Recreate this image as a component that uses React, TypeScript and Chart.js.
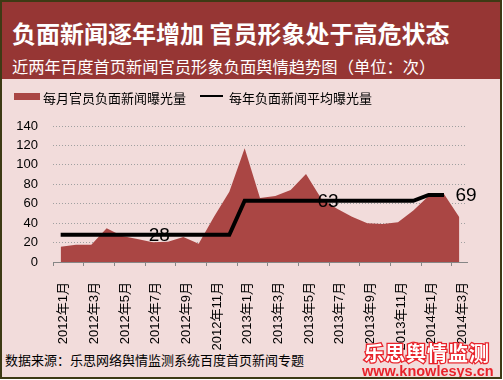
import React, { useEffect, useRef } from "react";
import { Chart, registerables } from "chart.js";

Chart.register(...registerables);

const months: string[] = [
  "2012年1月", "2012年2月", "2012年3月", "2012年4月", "2012年5月", "2012年6月",
  "2012年7月", "2012年8月", "2012年9月", "2012年10月", "2012年11月", "2012年12月",
  "2013年1月", "2013年2月", "2013年3月", "2013年4月", "2013年5月", "2013年6月",
  "2013年7月", "2013年8月", "2013年9月", "2013年10月", "2013年11月", "2013年12月",
  "2014年1月", "2014年2月", "2014年3月",
];

const monthlyExposure: number[] = [
  15.8, 17.8, 17.8, 34.7, 26.8, 23.7, 20.3, 20.9, 25.7, 18.8, 46.7, 72.4,
  117, 66, 68, 74, 90.5, 65, 55, 46.5, 40, 39, 41, 53,
  68, 70, 46,
];

const yearlyAverage: (number | null)[] = [
  28, 28, 28, 28, 28, 28, 28, 28, 28, 28, 28, 28,
  63, 63, 63, 63, 63, 63, 63, 63, 63, 63, 63, 63,
  69, 69, null,
];

const avgLabelIndex: number[] = [5, 16, 25];

const yTicks: number[] = [0, 20, 40, 60, 80, 100, 120, 140];

const FONT = "'Liberation Sans', Arial, 'Noto Sans CJK SC', sans-serif";
const CJK = "'Noto Sans CJK SC', 'Liberation Sans', sans-serif";

const avgLabelPlugin = {
  id: "avgLabels",
  afterDatasetsDraw(chart: any) {
    const ctx = chart.ctx;
    const xs = chart.scales.x;
    const ys = chart.scales.y;
    ctx.save();
    ctx.font = "19px " + FONT;
    ctx.fillStyle = "#000";
    ctx.textAlign = "center";
    ctx.textBaseline = "middle";
    avgLabelIndex.forEach((i) => {
      const v = yearlyAverage[i];
      if (v == null) return;
      ctx.fillText(String(v), xs.getPixelForValue(i) + 22, ys.getPixelForValue(v) + 1);
    });
    ctx.restore();
  },
};

export default function App() {
  const ref = useRef<HTMLCanvasElement | null>(null);

  useEffect(() => {
    if (!ref.current) return;
    Chart.defaults.font.family = FONT;
    const chart = new Chart(ref.current, {
      type: "line",
      data: {
        labels: months,
        datasets: [
          {
            label: "每年负面新闻平均曝光量",
            data: yearlyAverage,
            borderColor: "#000",
            borderWidth: 4,
            pointRadius: 0,
            fill: false,
            tension: 0,
            order: 0,
            spanGaps: false,
          },
          {
            label: "每月官员负面新闻曝光量",
            data: monthlyExposure,
            borderColor: "#aa4644",
            borderWidth: 0,
            backgroundColor: "#aa4644",
            pointRadius: 0,
            fill: "origin",
            tension: 0,
            order: 1,
          },
        ],
      },
      options: {
        animation: false,
        responsive: false,
        devicePixelRatio: 1,
        layout: { padding: { top: 46, right: 36, left: 0, bottom: 0 } },
        plugins: { legend: { display: false }, tooltip: { enabled: false } },
        scales: {
          x: {
            offset: true,
            afterFit: (s: any) => { s.height = 88; },
            grid: {
              offset: true,
              drawOnChartArea: false,
              drawTicks: true,
              tickLength: 4,
              color: (c: any) => (c.index % 2 === 0 ? "#868686" : "rgba(0,0,0,0)"),
            },
            border: { display: true, color: "#868686", width: 1 },
            ticks: {
              autoSkip: false,
              maxRotation: 90,
              minRotation: 90,
              padding: 16,
              labelOffset: 3,
              color: "#000",
              font: { size: 13, family: FONT },
              callback: (_v: any, i: number) => (i % 2 === 0 ? months[i] : ""),
            },
          },
          y: {
            min: 0,
            max: 140,
            afterFit: (s: any) => { s.width = 53; },
            afterBuildTicks: (s: any) => { s.ticks = yTicks.map((v) => ({ value: v })); },
            grid: {
              drawTicks: false,
              color: "#a0a0a0",
              lineWidth: 1,
            },
            border: { display: false, dash: [1, 2] },
            ticks: {
              padding: 15,
              color: "#000",
              font: { size: 13, family: FONT },
            },
          },
        },
      },
      plugins: [avgLabelPlugin],
    } as any);
    return () => chart.destroy();
  }, []);

  const abs = (o: React.CSSProperties): React.CSSProperties => ({ position: "absolute", ...o });

  return (
    <div
      style={{
        position: "absolute",
        left: 0,
        top: 0,
        width: 502,
        height: 379,
        boxSizing: "border-box",
        border: "2px solid #3d3a14",
        background: "#f2dcdb",
        overflow: "hidden",
        fontFamily: CJK,
      }}
    >
      <div style={abs({ left: 0, top: 0, width: 498, height: 77, background: "#963634" })} />
      <div
        style={abs({
          left: 10, top: 18, color: "#fff", fontWeight: "bold", fontSize: 24,
          lineHeight: "26px", whiteSpace: "nowrap",
        })}
      >
        负面新闻逐年增加 官员形象处于高危状态
      </div>
      <div
        style={abs({
          left: 10, top: 55, color: "#fff", fontSize: 16.3, lineHeight: "18px", whiteSpace: "nowrap",
        })}
      >
        近两年百度首页新闻官员形象负面舆情趋势图（单位：次）
      </div>

      <canvas
        ref={ref}
        width={503}
        height={270}
        style={abs({ left: -2, top: 78, width: 503, height: 270 })}
      />

      <div style={abs({ left: 12, top: 91, width: 26, height: 7, background: "#aa4644" })} />
      <div style={abs({ left: 41, top: 88, fontSize: 13, lineHeight: "16px", color: "#000", whiteSpace: "nowrap" })}>
        每月官员负面新闻曝光量
      </div>
      <div style={abs({ left: 198, top: 93, width: 23, height: 2, background: "#000" })} />
      <div style={abs({ left: 227, top: 88, fontSize: 13, lineHeight: "16px", color: "#000", whiteSpace: "nowrap" })}>
        每年负面新闻平均曝光量
      </div>

      <div style={abs({ left: 3, top: 350, fontSize: 13, lineHeight: "16px", color: "#000", whiteSpace: "nowrap" })}>
        数据来源：乐思网络舆情监测系统百度首页新闻专题
      </div>
      <div
        style={abs({
          left: 362, top: 340, fontSize: 20, lineHeight: "22px", fontWeight: "bold",
          color: "#ffffff", WebkitTextStroke: "2.6px #e8232b", paintOrder: "stroke fill",
          whiteSpace: "nowrap", letterSpacing: 1,
        } as any)}
      >
        乐思舆情监测
      </div>
      <div
        style={abs({
          left: 360, top: 362, fontSize: 14.5, lineHeight: "15px", fontWeight: "bold",
          color: "#e8232b", fontFamily: FONT, whiteSpace: "nowrap",
        })}
      >
        www.knowlesys.cn
      </div>
    </div>
  );
}
